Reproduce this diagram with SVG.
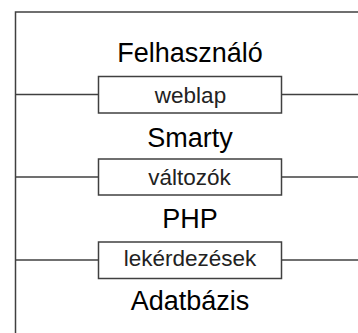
<svg xmlns="http://www.w3.org/2000/svg" width="358" height="333" viewBox="0 0 358 333">
  <style>
    .wire { fill: none; stroke: #404040; stroke-width: 1.5; }
    .box { fill: #ffffff; stroke: #404040; stroke-width: 1.5; }
    .layer { font-family: "Liberation Sans", Arial, sans-serif; font-size: 27px; fill: #000000; text-anchor: middle; }
    .iface { font-family: "Liberation Sans", Arial, sans-serif; font-size: 22.5px; fill: #222222; text-anchor: middle; }
  </style>
  <rect width="358" height="333" fill="#ffffff"/>

  <!-- frame and interface lines -->
  <g id="connectors">
    <polyline class="wire" points="358,12 15.5,12 15.5,333"/>
    <line class="wire" x1="15.5" y1="94.5" x2="98" y2="94.5"/>
    <line class="wire" x1="282" y1="94.5" x2="358" y2="94.5"/>
    <line class="wire" x1="15.5" y1="177" x2="98" y2="177"/>
    <line class="wire" x1="282" y1="177" x2="358" y2="177"/>
    <line class="wire" x1="15.5" y1="260" x2="98" y2="260"/>
    <line class="wire" x1="282" y1="260" x2="358" y2="260"/>
  </g>

  <!-- layers -->
  <g id="felhasznalo">
    <text class="layer" x="190" y="62">Felhasználó</text>
  </g>
  <g id="smarty">
    <text class="layer" x="190" y="146.5">Smarty</text>
  </g>
  <g id="php">
    <text class="layer" x="190" y="228">PHP</text>
  </g>
  <g id="adatbazis">
    <text class="layer" x="190" y="310">Adatbázis</text>
  </g>

  <!-- interfaces between layers -->
  <g id="weblap">
    <rect class="box" x="98.5" y="76.5" width="183" height="36.5"/>
    <text class="iface" x="190.5" y="103">weblap</text>
  </g>
  <g id="valtozok">
    <rect class="box" x="98.5" y="159" width="183" height="36"/>
    <text class="iface" x="189.5" y="185">változók</text>
  </g>
  <g id="lekerdezesek">
    <rect class="box" x="98.5" y="242" width="183" height="36.5"/>
    <text class="iface" x="190" y="266">lekérdezések</text>
  </g>
</svg>
